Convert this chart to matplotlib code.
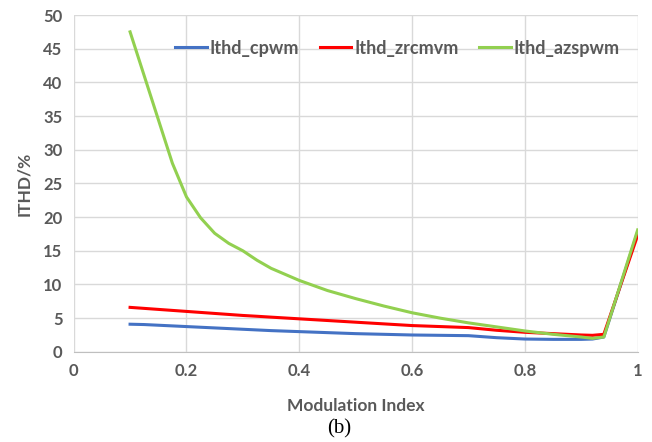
import numpy as np
import matplotlib.pyplot as plt

# modulation index samples
m_idx = [0.1, 0.125, 0.15, 0.175, 0.2, 0.225, 0.25, 0.275, 0.3, 0.325, 0.35,
         0.4, 0.45, 0.5, 0.55, 0.6, 0.65, 0.7, 0.75, 0.8, 0.85, 0.9,
         0.92, 0.94, 1.0]

ithd_cpwm = [4.1, 4.05, 3.95, 3.85, 3.75, 3.65, 3.55, 3.45, 3.35, 3.25, 3.15,
             3.0, 2.85, 2.7, 2.6, 2.5, 2.45, 2.4, 2.1, 1.9, 1.85, 1.85,
             1.9, 2.2, 17.8]
ithd_zrcmvm = [6.6, 6.45, 6.3, 6.15, 6.0, 5.85, 5.7, 5.55, 5.4, 5.28, 5.15,
               4.9, 4.65, 4.4, 4.15, 3.9, 3.75, 3.6, 3.2, 2.9, 2.7, 2.5,
               2.45, 2.6, 17.3]
ithd_azspwm = [47.5, 41.0, 34.5, 28.0, 23.0, 19.9, 17.6, 16.1, 15.0, 13.6, 12.4,
               10.6, 9.1, 7.9, 6.8, 5.8, 5.0, 4.3, 3.7, 3.1, 2.6, 2.2,
               2.0, 2.2, 18.1]

GRAY = '#595959'
plt.rcParams['font.family'] = ['Lato', 'DejaVu Sans']

fig = plt.figure(figsize=(6.52, 4.42), dpi=100)
ax = fig.add_axes([0.113, 0.204, 0.865, 0.762])

ax.plot(m_idx, ithd_cpwm, color='#4472c4', lw=2.2, label='Ithd_cpwm')
ax.plot(m_idx, ithd_zrcmvm, color='#ff0000', lw=2.2, label='Ithd_zrcmvm')
ax.plot(m_idx, ithd_azspwm, color='#92d050', lw=2.2, label='Ithd_azspwm')

ax.set_xlim(0, 1)
ax.set_ylim(0, 50)
ax.set_xticks(np.arange(0, 1.01, 0.2))
ax.set_xticklabels(['0', '0.2', '0.4', '0.6', '0.8', '1'])
ax.set_yticks(np.arange(0, 51, 5))
ax.grid(True, color='#d9d9d9', lw=1)
ax.set_axisbelow(True)
for s in ['top', 'right', 'left']:
    ax.spines[s].set_visible(False)
ax.spines['bottom'].set_color('#bfbfbf')
ax.tick_params(length=0, labelsize=12, labelcolor=GRAY, pad=8)
for lbl in ax.get_xticklabels() + ax.get_yticklabels():
    lbl.set_fontweight('bold')

ax.set_xlabel('Modulation Index', fontsize=12.5, fontweight='bold', color=GRAY, labelpad=14)
ax.set_ylabel('ITHD/%', fontsize=12.5, fontweight='bold', color=GRAY, labelpad=8)

leg = ax.legend(loc='upper center', bbox_to_anchor=(0.574, 0.975), ncol=3, frameon=False,
                prop={'size': 13, 'weight': 'bold'}, handlelength=1.75, columnspacing=1.15,
                handletextpad=0.15)
for t in leg.get_texts():
    t.set_color(GRAY)

fig.text(0.52, 0.02, '(b)', ha='center', fontsize=15, family='Liberation Serif')

fig.savefig('out.png')
